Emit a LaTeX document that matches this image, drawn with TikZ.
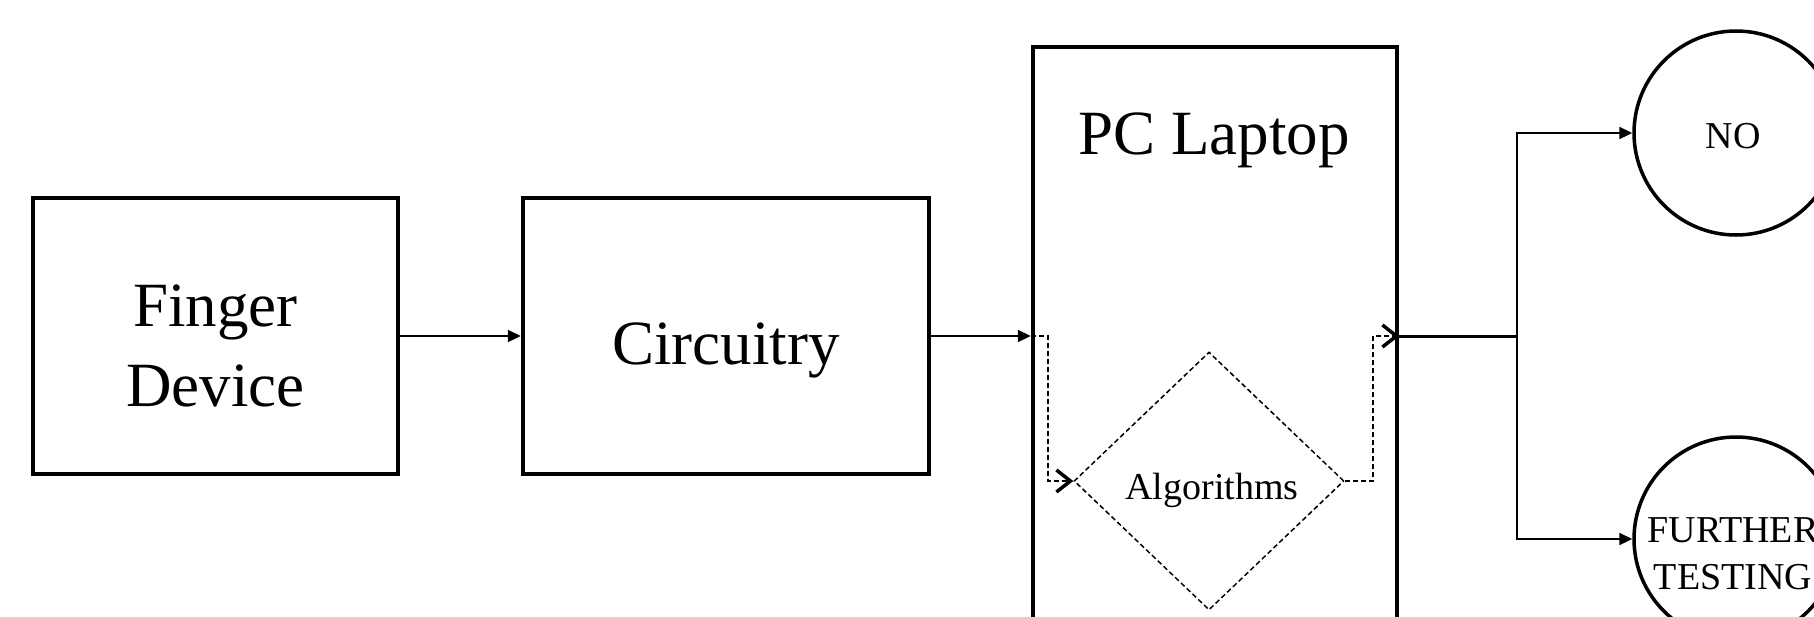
\documentclass[tikz,border=0pt]{standalone}
\usepackage{fontspec}
\setmainfont{Liberation Serif}
\usetikzlibrary{arrows.meta,shapes.geometric,calc}
\begin{document}
\begin{tikzpicture}[x=1pt,y=-1pt,
  blockbox/.style={draw, rectangle, line width=4.5pt, inner sep=0pt, minimum height=276pt},
  biglbl/.style={font=\fontsize{63}{80}\selectfont, align=center, inner sep=0pt},
  smalllbl/.style={font=\fontsize{38}{47}\selectfont, align=center, inner sep=0pt},
  endcircle/.style={draw, circle, line width=3.5pt, minimum size=204pt, inner sep=0pt},
  algobox/.style={draw, diamond, line width=1.5pt, dash pattern=on 5pt off 3pt,
    minimum width=270pt, minimum height=258pt, inner sep=0pt},
  arr/.style={line width=2.2pt, -{Triangle[length=13pt,width=12pt]}},
  dasharr/.style={line width=1.5pt, dash pattern=on 5pt off 3pt,
    -{Straight Barb[length=14pt,width=22pt,line width=3.5pt]}}
]
\useasboundingbox (0,0) rectangle (1814,616);
\clip (0,0) rectangle (1814,616);

% blocks
\node[blockbox, minimum width=365pt] (finger) at (215.5,336) {};
\node[biglbl, anchor=base] (fingertext) at (215.5,406) {Finger\\Device};

\node[blockbox, minimum width=406pt] (circuitry) at (726,336) {};
\node[biglbl, anchor=base] (circuitrytext) at (726,364) {Circuitry};

\node[draw, rectangle, line width=4.5pt, inner sep=0pt, minimum width=364pt, minimum height=653pt] (pc) at (1215,373.5) {};
\node[biglbl, anchor=base] (pctext) at (1214,154) {PC Laptop};

\node[algobox] (algo) at (1209,481) {};
\node[smalllbl, anchor=base] (algotext) at (1212,499) {Algorithms};

\node[endcircle] (no) at (1736,133) {};
\node[smalllbl, anchor=base] (notext) at (1733,148) {NO};

\node[endcircle] (further) at (1736,539) {};
\node[smalllbl, anchor=base] (furthertext) at (1733,589) {FURTHER\\TESTING};

% connection points
\coordinate (pcin) at (pc.west |- finger.east);
\coordinate (pcout) at (pc.east |- finger.east);
\coordinate (branch) at (1517,336);

% connectors
\draw[arr] (finger.east) -- (circuitry.west);
\draw[arr] (circuitry.east) -- (pcin);
\draw[dasharr] (pcin) -- ++(17,0) |- (algo.west);
\draw[dasharr] (algo.east) -- ++(28,0) |- (pcout);
\draw[line width=3pt] (pcout) -- (branch);
\draw[arr] (branch) |- (no.west);
\draw[arr] (branch) |- (further.west);
\end{tikzpicture}
\end{document}
